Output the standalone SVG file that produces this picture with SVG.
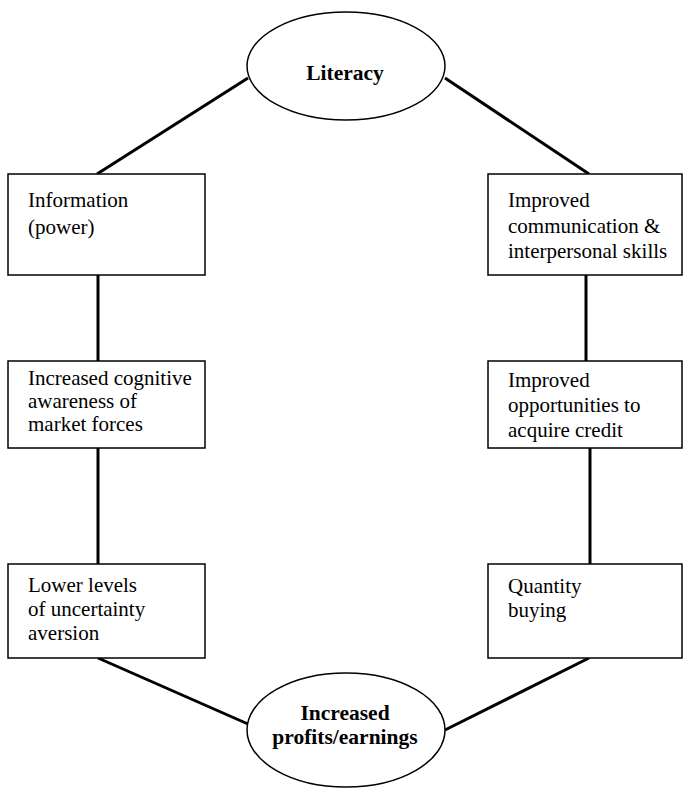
<svg xmlns="http://www.w3.org/2000/svg" width="684" height="788" viewBox="0 0 684 788">
<style>
.box{fill:#fff;stroke:#000;stroke-width:1.5}
.ell{fill:#fff;stroke:#000;stroke-width:1.5}
.con line{stroke:#000;stroke-width:3;stroke-linecap:butt}
text{font-family:"Liberation Serif","Times New Roman",serif;fill:#000}
.t{font-size:21px}
.b{font-size:21.5px;font-weight:bold;text-anchor:middle}
</style>
<rect width="684" height="788" fill="#fff"/>
<g id="connectors" class="con">
<line x1="97" y1="174" x2="248" y2="78"/>
<line x1="445" y1="78" x2="589" y2="174"/>
<line x1="98" y1="275" x2="98" y2="361"/>
<line x1="98" y1="448" x2="98" y2="564"/>
<line x1="586" y1="275" x2="586" y2="361"/>
<line x1="590" y1="448" x2="590" y2="564"/>
<line x1="98" y1="658" x2="248" y2="724"/>
<line x1="589" y1="658" x2="445" y2="730"/>
</g>
<g id="literacy">
<ellipse class="ell" cx="346" cy="66" rx="99" ry="54"/>
<text class="b" x="345" y="80">Literacy</text>
</g>
<g id="information">
<rect class="box" x="8" y="174" width="197" height="101"/>
<text class="t" x="28" y="207">Information</text>
<text class="t" x="28" y="234">(power)</text>
</g>
<g id="communication">
<rect class="box" x="488" y="174" width="194" height="101"/>
<text class="t" x="508" y="207">Improved</text>
<text class="t" x="508" y="233">communication &amp;</text>
<text class="t" x="508" y="258">interpersonal skills</text>
</g>
<g id="cognitive">
<rect class="box" x="8" y="361" width="197" height="87"/>
<text class="t" x="28" y="385">Increased cognitive</text>
<text class="t" x="28" y="408">awareness of</text>
<text class="t" x="28" y="431">market forces</text>
</g>
<g id="credit">
<rect class="box" x="488" y="361" width="194" height="87"/>
<text class="t" x="508" y="387">Improved</text>
<text class="t" x="508" y="412">opportunities to</text>
<text class="t" x="508" y="437">acquire credit</text>
</g>
<g id="uncertainty">
<rect class="box" x="8" y="564" width="197" height="94"/>
<text class="t" x="28" y="592">Lower levels</text>
<text class="t" x="28" y="616">of uncertainty</text>
<text class="t" x="28" y="640">aversion</text>
</g>
<g id="quantity">
<rect class="box" x="488" y="564" width="194" height="94"/>
<text class="t" x="508" y="593">Quantity</text>
<text class="t" x="508" y="617">buying</text>
</g>
<g id="profits">
<ellipse class="ell" cx="346" cy="730" rx="99" ry="57"/>
<text class="b" x="345" y="720">Increased</text>
<text class="b" x="345" y="744">profits/earnings</text>
</g>
</svg>
